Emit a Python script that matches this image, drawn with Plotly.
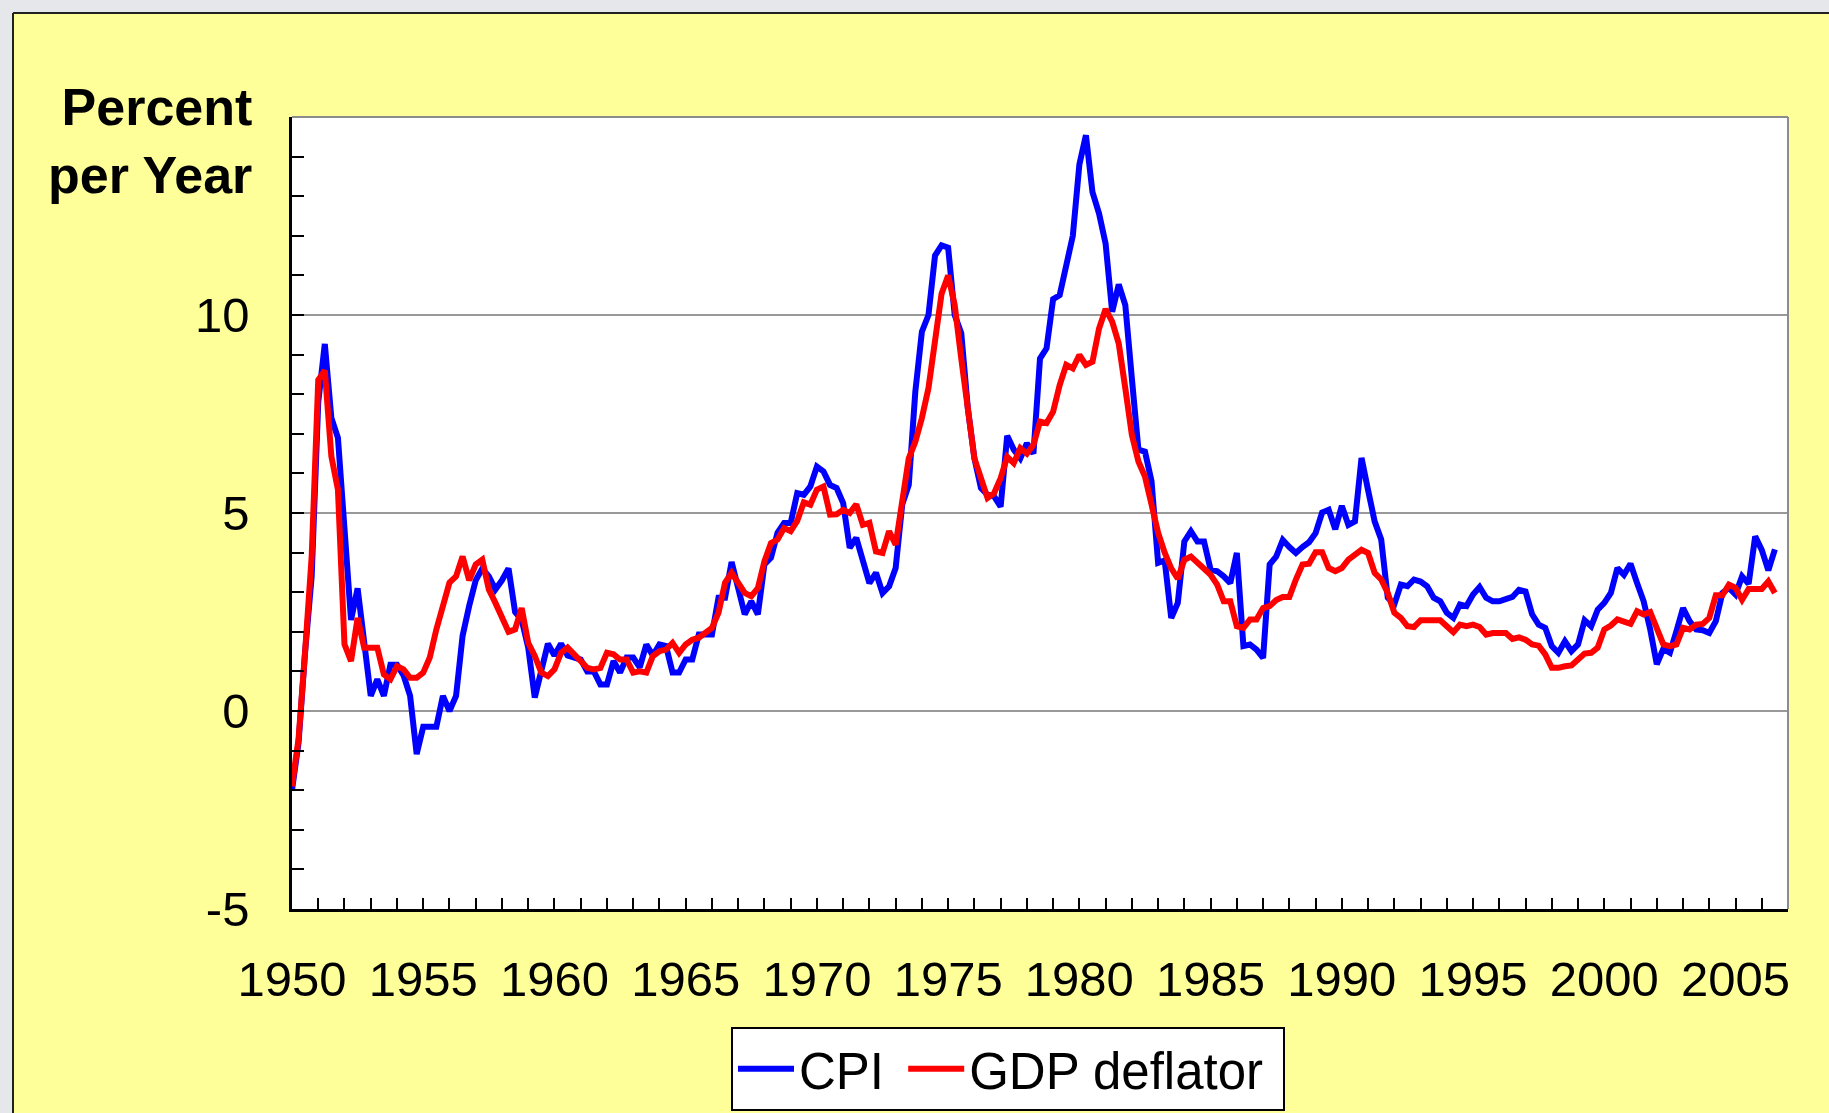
import plotly.graph_objects as go

# Quarterly year-over-year inflation, 1950Q1 .. 2006Q3
start_year = 1950
quarters_per_year = 4

cpi = [
    -2.0, -0.8, 1.5, 3.4,      # 1950
    7.8, 9.27, 7.4, 6.9,       # 1951
    4.6, 2.3, 3.1, 1.8,        # 1952
    0.38, 0.8, 0.38, 1.17,     # 1953
    1.17, 0.9, 0.38, -1.09,    # 1954
    -0.4, -0.4, -0.4, 0.38,    # 1955
    0.0, 0.38, 1.9, 2.65,      # 1956
    3.3, 3.6, 3.4, 3.07,       # 1957
    3.3, 3.6, 2.5, 2.3,        # 1958
    1.6, 0.34, 0.97, 1.7,      # 1959
    1.4, 1.7, 1.4, 1.35,       # 1960
    1.3, 1.0, 1.0, 0.67,       # 1961
    0.67, 1.26, 0.97, 1.35,    # 1962
    1.35, 1.1, 1.68, 1.4,      # 1963
    1.68, 1.64, 0.97, 0.97,    # 1964
    1.3, 1.3, 1.93, 1.93,      # 1965
    1.93, 2.86, 2.86, 3.76,    # 1966
    3.15, 2.44, 2.77, 2.44,    # 1967
    3.7, 3.87, 4.5, 4.75,      # 1968
    4.75, 5.5, 5.46, 5.67,     # 1969
    6.17, 6.05, 5.71, 5.63,    # 1970
    5.25, 4.12, 4.37, 3.82,    # 1971
    3.23, 3.49, 2.98, 3.15,    # 1972
    3.61, 5.21, 5.71, 8.07,    # 1973
    9.58, 10.0, 11.5, 11.76,   # 1974
    11.7, 10.0, 9.54, 7.65,    # 1975
    6.38, 5.63, 5.46, 5.42,    # 1976
    5.16, 6.95, 6.6, 6.38,     # 1977
    6.76, 6.5, 8.9, 9.16,      # 1978
    10.4, 10.5, 11.26, 12.0,   # 1979
    13.8, 14.54, 13.1, 12.56,  # 1980
    11.8, 10.08, 10.77, 10.25, # 1981
    8.4, 6.6, 6.55, 5.8,       # 1982
    3.74, 3.8, 2.35, 2.73,     # 1983
    4.28, 4.54, 4.28, 4.28,    # 1984
    3.57, 3.53, 3.4, 3.23,     # 1985
    3.99, 1.64, 1.68, 1.55,    # 1986
    1.34, 3.7, 3.9, 4.32,      # 1987
    4.14, 3.99, 4.14, 4.26,    # 1988
    4.49, 5.01, 5.08, 4.59,    # 1989
    5.18, 4.7, 4.79, 6.39,     # 1990
    5.58, 4.79, 4.33, 2.86,    # 1991
    2.69, 3.19, 3.15, 3.32,    # 1992
    3.27, 3.15, 2.86, 2.77,    # 1993
    2.48, 2.35, 2.69, 2.65,    # 1994
    2.94, 3.13, 2.86, 2.77,    # 1995
    2.77, 2.81, 2.88, 3.06,    # 1996
    3.02, 2.44, 2.18, 2.1,     # 1997
    1.64, 1.47, 1.76, 1.51,    # 1998
    1.68, 2.29, 2.14, 2.56,    # 1999
    2.73, 2.98, 3.61, 3.44,    # 2000
    3.72, 3.23, 2.77, 2.06,    # 2001
    1.18, 1.57, 1.47, 2.02,    # 2002
    2.6, 2.27, 2.06, 2.04,     # 2003
    1.97, 2.27, 2.98, 3.11,    # 2004
    2.94, 3.4, 3.21, 4.41,     # 2005
    4.07, 3.55, 4.08,          # 2006
]

gdp_deflator = [
    -1.9, -0.7, 1.5, 3.9,      # 1950
    8.36, 8.6, 6.43, 5.59,     # 1951
    1.68, 1.26, 2.35, 1.6,     # 1952
    1.6, 1.6, 0.92, 0.8,       # 1953
    1.13, 1.05, 0.84, 0.84,    # 1954
    0.97, 1.35, 2.06, 2.65,    # 1955
    3.24, 3.4, 3.9, 3.3,       # 1956
    3.7, 3.82, 3.07, 2.73,     # 1957
    2.35, 2.0, 2.06, 2.6,      # 1958
    1.72, 1.39, 0.97, 0.88,    # 1959
    1.05, 1.47, 1.6, 1.43,     # 1960
    1.26, 1.09, 1.05, 1.09,    # 1961
    1.47, 1.43, 1.3, 1.3,      # 1962
    0.97, 1.0, 0.97, 1.39,     # 1963
    1.51, 1.55, 1.72, 1.47,    # 1964
    1.68, 1.8, 1.85, 1.97,     # 1965
    2.1, 2.48, 3.24, 3.49,     # 1966
    3.24, 2.98, 2.9, 3.1,      # 1967
    3.78, 4.24, 4.33, 4.62,    # 1968
    4.54, 4.8, 5.27, 5.21,     # 1969
    5.59, 5.67, 4.96, 4.97,    # 1970
    5.08, 5.0, 5.22, 4.7,      # 1971
    4.75, 4.03, 3.99, 4.54,    # 1972
    4.2, 5.33, 6.38, 6.8,      # 1973
    7.4, 8.15, 9.5, 10.54,     # 1974
    11.0, 10.25, 8.9, 7.56,    # 1975
    6.38, 5.88, 5.38, 5.5,     # 1976
    5.88, 6.42, 6.26, 6.64,    # 1977
    6.5, 6.72, 7.31, 7.27,     # 1978
    7.56, 8.23, 8.74, 8.65,    # 1979
    8.99, 8.74, 8.82, 9.66,    # 1980
    10.15, 9.83, 9.28, 8.15,   # 1981
    6.97, 6.3, 5.92, 5.21,     # 1982
    4.5, 4.0, 3.6, 3.34,       # 1983
    3.82, 3.9, 3.74, 3.61,     # 1984
    3.44, 3.19, 2.77, 2.77,    # 1985
    2.14, 2.1, 2.31, 2.31,     # 1986
    2.6, 2.65, 2.8, 2.88,      # 1987
    2.88, 3.32, 3.7, 3.72,     # 1988
    4.01, 4.01, 3.61, 3.53,    # 1989
    3.61, 3.82, 3.95, 4.07,    # 1990
    3.99, 3.49, 3.32, 2.98,    # 1991
    2.48, 2.35, 2.14, 2.12,    # 1992
    2.29, 2.29, 2.29, 2.29,    # 1993
    2.14, 1.99, 2.18, 2.14,    # 1994
    2.18, 2.12, 1.93, 1.97,    # 1995
    1.97, 1.97, 1.82, 1.86,    # 1996
    1.8, 1.68, 1.65, 1.43,     # 1997
    1.09, 1.09, 1.13, 1.15,    # 1998
    1.3, 1.45, 1.47, 1.6,      # 1999
    2.06, 2.16, 2.31, 2.25,    # 2000
    2.2, 2.52, 2.44, 2.5,      # 2001
    2.06, 1.68, 1.64, 1.68,    # 2002
    2.1, 2.06, 2.18, 2.2,      # 2003
    2.35, 2.92, 2.92, 3.19,    # 2004
    3.11, 2.81, 3.08, 3.08,    # 2005
    3.08, 3.27, 2.98,          # 2006
]

dates = [start_year + i / quarters_per_year for i in range(len(cpi))]

x_tick_vals = [1950, 1955, 1960, 1965, 1970, 1975, 1980, 1985, 1990, 1995, 2000, 2005]
x_tick_text = [str(v) for v in x_tick_vals]
y_tick_vals = [-5, 0, 5, 10, 15]
y_tick_text = ["-5", "0", "5", "10", ""]

FONT = "Liberation Sans, Arial, sans-serif"
W, H = 1829, 1113
ML, MR, MT, MB = 292, 41, 117, 204
PW, PH = W - ML - MR, H - MT - MB


def px_x(p):
    return (p - ML) / PW


def px_y(p):
    return (H - MB - p) / PH


fig = go.Figure()
fig.add_trace(go.Scatter(x=dates, y=cpi, mode="lines", name="CPI&nbsp;",
                         line=dict(color="#0000FF", width=6)))
fig.add_trace(go.Scatter(x=dates, y=gdp_deflator, mode="lines", name="GDP deflator&nbsp;",
                         line=dict(color="#FF0000", width=6)))

shapes = [
    # grey page strips + black frame of the yellow slide
    dict(type="rect", xref="paper", yref="paper", x0=px_x(-5), x1=px_x(W + 5),
         y0=px_y(12), y1=px_y(-5), fillcolor="#E6E7EA", line=dict(width=0), layer="below"),
    dict(type="rect", xref="paper", yref="paper", x0=px_x(-5), x1=px_x(13),
         y0=px_y(H + 5), y1=px_y(-5), fillcolor="#E6E7EA", line=dict(width=0), layer="below"),
    dict(type="line", xref="paper", yref="paper", x0=px_x(13), x1=px_x(W + 5),
         y0=px_y(13), y1=px_y(13), line=dict(color="#222222", width=2)),
    dict(type="line", xref="paper", yref="paper", x0=px_x(13), x1=px_x(13),
         y0=px_y(13), y1=px_y(H + 5), line=dict(color="#222222", width=2)),
    # grey top/right frame of the plot area
    dict(type="line", xref="paper", yref="paper", x0=0, x1=1, y0=1, y1=1,
         line=dict(color="#8C8C8C", width=2)),
    dict(type="line", xref="paper", yref="paper", x0=1, x1=1, y0=0, y1=1,
         line=dict(color="#8C8C8C", width=2)),
]

fig.update_layout(
    width=W, height=H,
    margin=dict(l=ML, r=MR, t=MT, b=MB, pad=0, autoexpand=False),
    paper_bgcolor="#FFFF99",
    plot_bgcolor="#FFFFFF",
    font=dict(family=FONT, color="#000000", size=50),
    showlegend=True,
    legend=dict(orientation="h", x=px_x(1008), xanchor="center", y=px_y(1027), yanchor="top",
                bgcolor="#FFFFFF", bordercolor="#000000", borderwidth=2,
                font=dict(family=FONT, size=51, color="#000000"),
                itemwidth=56, tracegroupgap=0),
    shapes=shapes,
    annotations=[dict(text="<b>Percent<br>per Year</b>", xref="paper", yref="paper",
                      x=px_x(254), y=px_y(141), xanchor="right", yanchor="middle",
                      align="right", showarrow=False,
                      font=dict(family=FONT, size=52, color="#000000"))],
)

fig.update_xaxes(
    range=[1950, 2007], tickmode="array", tickvals=x_tick_vals, ticktext=x_tick_text,
    showgrid=False, zeroline=False, automargin=False,
    showline=True, linecolor="#000000", linewidth=2.5,
    ticks="inside", ticklen=11, tickwidth=2, tickcolor="#000000",
    minor=dict(tickmode="linear", tick0=1950, dtick=1, ticks="inside", ticklen=11,
               tickwidth=2, tickcolor="#000000", showgrid=False),
    tickfont=dict(family=FONT, size=49, color="#000000"),
    ticklabelstandoff=25,
)
fig.update_yaxes(
    range=[-5, 15], tickmode="array", tickvals=y_tick_vals, ticktext=y_tick_text,
    showgrid=True, gridcolor="#999999", gridwidth=2, zeroline=False, automargin=False,
    showline=True, linecolor="#000000", linewidth=2.5,
    ticks="inside", ticklen=12, tickwidth=2, tickcolor="#000000",
    minor=dict(tickmode="linear", tick0=-5, dtick=1, ticks="inside", ticklen=12,
               tickwidth=2, tickcolor="#000000", showgrid=False),
    tickfont=dict(family=FONT, size=49, color="#000000"),
    ticklabelstandoff=30,
)

fig.write_html(
    "out.html",
    config={"displayModeBar": False, "responsive": False},
    post_script="document.body.style.margin='0px';document.body.style.overflow='hidden';",
)
